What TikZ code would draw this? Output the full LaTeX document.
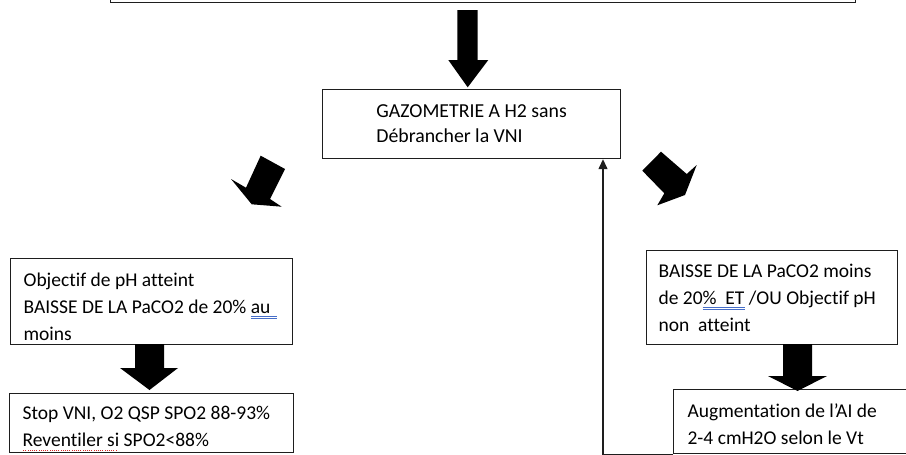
\documentclass[tikz,border=0pt]{standalone}
\usepackage{fontspec}
\setmainfont[Ligatures={NoCommon}]{Carlito}
\usetikzlibrary{arrows.meta}
\definecolor{ulblue}{RGB}{70,110,200}
\definecolor{ulred}{RGB}{215,40,40}
\definecolor{edge}{RGB}{30,30,30}
\newcommand\blueul[1]{\leavevmode\setbox0\hbox{#1}\rlap{\color{ulblue}\rule[-3.2pt]{\wd0}{0.7pt}\kern-\wd0\rule[-5.4pt]{\wd0}{0.7pt}}\box0\relax}
\newcommand\redul[1]{\leavevmode\setbox0\hbox{#1}\rlap{\color{ulred}\leaders\hbox to 2.2pt{\hss\rule[-4.5pt]{1pt}{1pt}\hss}\hskip\wd0}\box0\relax}
\begin{document}
\begin{tikzpicture}[x=1pt,y=-1pt,
  box/.style={draw=edge, line width=1.2pt, rectangle, inner ysep=0pt, font=\fontsize{19.5}{27}\selectfont, text=black},
  lbox/.style={box, align=flush left, anchor=north west, inner xsep=13pt},
  blk/.style={fill=black, draw=none},
  fb/.style={line width=1.3pt, draw=edge, -{Triangle[length=10pt,width=9pt]}}]
\useasboundingbox (0,0) rectangle (906,455);
\fill[white] (0,0) rectangle (906,455);

\node[box, anchor=south west, minimum width=745pt, minimum height=40pt] (top) at (110,3) {};

\node[box, align=left, anchor=north west, minimum width=298pt, minimum height=69pt,
      font=\fontsize{19.8}{25}\selectfont] (gaz) at (322,89)
  {GAZOMETRIE A H2 sans\\Débrancher la VNI};

\node[lbox, text width=256pt, minimum height=86pt] (obj) at (10,258)
  {\mbox{\rule{0pt}{24.5pt}Objectif de pH atteint}\\\mbox{BAISSE DE LA PaCO2 de 20\% \blueul{au\hspace{7pt}}}\\\mbox{moins}};

\node[lbox, text width=258pt, minimum height=59pt] (stop) at (9,393)
  {\mbox{\rule{0pt}{23.5pt}Stop VNI, O2 QSP SPO2 88-93\%}\\\mbox{\redul{Reventiler si} SPO2<88\%}};

\node[lbox, inner xsep=12pt, text width=227pt, minimum height=94pt] (baisse) at (646,250)
  {\mbox{BAISSE DE LA PaCO2 moins}\\\mbox{de 20\blueul{\%\ \ ET} /OU Objectif pH}\\\mbox{non\ \ atteint}};

\node[lbox, inner xsep=14pt, text width=214pt, minimum height=64pt] (aug) at (673,389)
  {\mbox{\rule{0pt}{19.5pt}Augmentation de l’AI de}\\\mbox{2-4 cmH2O selon le Vt}};

% block arrows
\fill[blk] (457.3,10) -- (477.7,10) -- (477.7,60) -- (488.3,60) -- (467.7,87.3) -- (448.3,60) -- (457.3,60) -- cycle;
\fill[blk] (260.7,155.7) -- (285,169) -- (270,199) -- (281.7,206.7) -- (251.7,204.3) -- (231,179) -- (246,187.7) -- cycle;
\fill[blk] (661,151.7) -- (686.7,174) -- (696.7,165) -- (685,195) -- (657.3,205.3) -- (664.3,193.3) -- (642.3,170.7) -- cycle;
\fill[blk] (135,344) -- (164,344) -- (164,368) -- (178,368) -- (149.5,390) -- (120,368) -- (135,368) -- cycle;
\fill[blk] (783,344) -- (812,344) -- (812,376) -- (827,376) -- (797.5,391) -- (768,376) -- (783,376) -- cycle;

% feedback connector
\coordinate (fbx) at (603,0);
\draw[fb] (aug.south west) -| (fbx |- gaz.south);
\end{tikzpicture}
\end{document}
